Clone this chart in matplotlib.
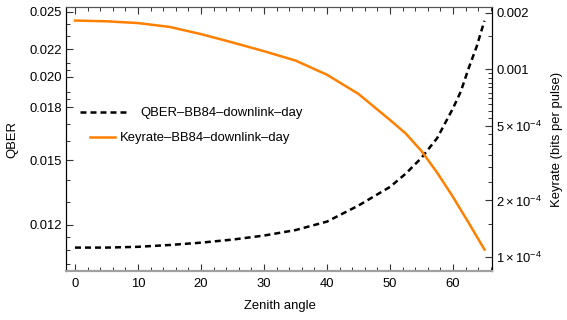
import numpy as np
import matplotlib
matplotlib.use("Agg")
import matplotlib.pyplot as plt
from matplotlib.ticker import FixedLocator, NullFormatter

plt.rcParams.update({
    "font.family": ["Liberation Sans", "DejaVu Sans"],
    "font.size": 9.4,
    "mathtext.fontset": "custom",
    "mathtext.rm": "Liberation Sans",
    "mathtext.it": "Liberation Sans:italic",
    "axes.unicode_minus": True,
})

# zenith angle (deg) with QBER and key rate for the BB84 downlink, day
angle = [0, 5, 10, 15, 20, 25, 30, 35, 40, 45, 50, 52.5, 55, 57.5, 60,
         61.25, 62.5, 63.75, 65]
qber = [0.01110, 0.01110, 0.01113, 0.01120, 0.01129, 0.01141, 0.01157,
        0.01179, 0.01214, 0.01283, 0.01368, 0.01432, 0.01512, 0.01619,
        0.01793, 0.01901, 0.02060, 0.02217, 0.02425]
keyrate = [1.817e-3, 1.801e-3, 1.762e-3, 1.681e-3, 1.539e-3, 1.389e-3,
           1.248e-3, 1.113e-3, 9.35e-4, 7.39e-4, 5.37e-4, 4.55e-4, 3.67e-4,
           2.81e-4, 2.09e-4, 1.78e-4, 1.52e-4, 1.29e-4, 1.096e-4]

qber_ticks = [0.012, 0.015, 0.018, 0.020, 0.022, 0.025]
qber_minor = [0.0105, 0.011, 0.0115, 0.013, 0.014, 0.016, 0.017, 0.0185,
              0.019, 0.0205, 0.021, 0.023, 0.024]
key_ticks = [1e-4, 2e-4, 5e-4, 1e-3, 2e-3]
key_labels = [r"$1\times10^{-4}$", r"$2\times10^{-4}$", r"$5\times10^{-4}$",
              "0.001", "0.002"]

ORANGE = "#FF8000"

W, H = 567, 320
fig = plt.figure(figsize=(W / 100, H / 100), dpi=100)
ax = fig.add_axes([66 / W, 1 - 271 / H, (492 - 66) / W, (271 - 7) / H])
ax2 = ax.twinx()

lq, = ax.plot(angle, qber, color="black", lw=1.8, dashes=(2.4, 1.6),
              label="QBER–BB84–downlink–day")
lk, = ax2.plot(angle, keyrate, color=ORANGE, lw=1.8,
               label="Keyrate–BB84–downlink–day")

ax.set_xlim(-1.43, 66.2)
ax.set_yscale("log")
ax.set_ylim(0.01024, 0.02543)
ax.yaxis.set_major_locator(FixedLocator(qber_ticks))
ax.yaxis.set_minor_locator(FixedLocator(qber_minor))
ax.set_yticklabels([f"{t:.3f}" for t in qber_ticks])
ax.yaxis.set_minor_formatter(NullFormatter())
ax.set_xticks(np.arange(0, 61, 10))
ax.set_xticks(np.arange(0, 67, 2), minor=True)

ax2.set_yscale("log")
ax2.set_ylim(8.42e-5, 2.146e-3)
ax2.yaxis.set_major_locator(FixedLocator(key_ticks))
ax2.set_yticklabels(key_labels)
key_minor = [m * d for d in (1e-4, 1e-3) for m in np.arange(1, 10, 0.5)
             if m * d not in key_ticks and 8.42e-5 < m * d < 2.146e-3]
ax2.yaxis.set_minor_locator(FixedLocator(key_minor))
ax2.yaxis.set_minor_formatter(NullFormatter())

ax.tick_params(axis="x", which="both", direction="in", top=True,
               labelsize=9.4, pad=5)
ax.tick_params(axis="y", which="both", direction="in", labelsize=9.4, pad=3)
ax.tick_params(which="major", length=5, width=0.8, color="#333333")
ax.tick_params(which="minor", length=3, width=0.7, color="#333333")
ax2.tick_params(axis="y", which="both", direction="in", labelsize=9.4, pad=3)
ax2.tick_params(which="major", length=5, width=0.8, color="#333333")
ax2.tick_params(which="minor", length=3, width=0.7, color="#333333")

for a in (ax, ax2):
    a.spines["bottom"].set_color("#a0a0a0")
    a.spines["bottom"].set_linewidth(1.5)
    a.spines["top"].set_color("#555555")
    a.spines["left"].set_color("black")
    a.spines["right"].set_color("black")

fig.text(280 / W, 1 - 306 / H, "Zenith angle", ha="center", va="center",
         fontsize=9.4)
fig.text(12 / W, 1 - 139 / H, "QBER", ha="center", va="center",
         rotation=90, fontsize=9.4)
fig.text(557 / W, 1 - 139 / H, "Keyrate (bits per pulse)", ha="center",
         va="center", rotation=90, fontsize=9.4)

fig.legend(handles=[lq], loc="center left",
           bbox_to_anchor=(80 / W, 1 - 113 / H), frameon=False,
           borderpad=0, borderaxespad=0, handlelength=3.85,
           handletextpad=0.77, fontsize=9.4)
fig.legend(handles=[lk], loc="center left",
           bbox_to_anchor=(90 / W, 1 - 138 / H), frameon=False,
           borderpad=0, borderaxespad=0, handlelength=1.92,
           handletextpad=0.38, fontsize=9.4)

fig.savefig("out.png", dpi=100)
